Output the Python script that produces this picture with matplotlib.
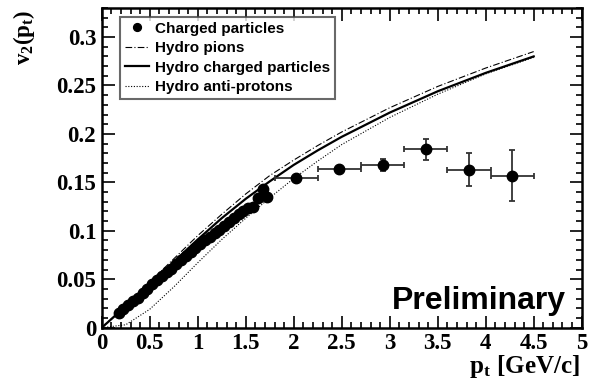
#!/usr/bin/env python3
"""v2(pt) of charged particles compared with hydro curves."""

import matplotlib

matplotlib.use("Agg")
import matplotlib.pyplot as plt
from matplotlib.ticker import MultipleLocator, FuncFormatter

# low-pt measured points
pt_low = [0.175, 0.225, 0.275, 0.325, 0.375, 0.425, 0.475, 0.525, 0.575, 0.625,
          0.675, 0.725, 0.775, 0.825, 0.875, 0.925, 0.975, 1.025, 1.075, 1.125,
          1.175, 1.225, 1.275, 1.325, 1.375, 1.425, 1.475, 1.525, 1.575, 1.625,
          1.675, 1.725]
v2_low = [0.015, 0.019, 0.023, 0.028, 0.031, 0.036, 0.040, 0.045, 0.049, 0.053,
          0.057, 0.061, 0.066, 0.070, 0.074, 0.078, 0.082, 0.086, 0.090, 0.094,
          0.098, 0.101, 0.105, 0.109, 0.113, 0.117, 0.120, 0.124, 0.125, 0.134,
          0.143, 0.135]

# high-pt measured points (wide bins)
pt_high = [2.025, 2.475, 2.925, 3.375, 3.825, 4.275]
v2_high = [0.155, 0.164, 0.168, 0.184, 0.163, 0.157]
v2_high_err = [0.002, 0.003, 0.006, 0.011, 0.017, 0.026]
pt_high_err = [0.225, 0.225, 0.225, 0.225, 0.225, 0.225]

# hydro curves
pt_hydro = [0.0, 0.25, 0.5, 0.75, 1.0, 1.25, 1.5, 1.75, 2.0, 2.25, 2.5, 3.0, 3.5, 4.0, 4.5]
v2_pions = [0.0, 0.023, 0.047, 0.071, 0.095, 0.117, 0.138, 0.157, 0.173, 0.188,
            0.202, 0.227, 0.249, 0.268, 0.285]
v2_charged = [0.0, 0.022, 0.045, 0.068, 0.091, 0.113, 0.133, 0.151, 0.168, 0.183,
              0.197, 0.222, 0.244, 0.263, 0.280]
v2_pbar = [0.0, 0.003, 0.019, 0.042, 0.067, 0.091, 0.113, 0.134, 0.154, 0.172,
           0.189, 0.217, 0.241, 0.262, 0.279]

serif = "Liberation Serif"
sans = "Liberation Sans"
plt.rcParams["mathtext.fontset"] = "custom"
plt.rcParams["mathtext.rm"] = "Liberation Serif:bold"
plt.rcParams["mathtext.it"] = "Liberation Serif:bold"
plt.rcParams["mathtext.bf"] = "Liberation Serif:bold"

fig = plt.figure(figsize=(5.92, 3.89), dpi=100)
ax = fig.add_axes([0.1718, 0.1576, 0.8108, 0.8219])

ax.plot(pt_hydro, v2_pions, color="black", lw=0.8, linestyle=(0, (6, 2, 1, 2)),
        label="Hydro pions")
ax.plot(pt_hydro, v2_charged, color="black", lw=1.6, label="Hydro charged particles")
ax.plot(pt_hydro, v2_pbar, color="black", lw=0.8, linestyle=(0, (1, 1.5)),
        label="Hydro anti-protons")

ax.errorbar(pt_high, v2_high, xerr=pt_high_err, yerr=v2_high_err, fmt="o",
            color="black", ecolor="#333333", elinewidth=1.3, capsize=2.5,
            capthick=1.3, markersize=7.5)
ax.plot(pt_low, v2_low, "o", color="black", markersize=7.5, label="Charged particles")

handles, labels = ax.get_legend_handles_labels()
order = [3, 0, 1, 2]
leg = ax.legend([handles[i] for i in order], [labels[i] for i in order],
                loc="upper left", bbox_to_anchor=(0.038, 0.972), borderaxespad=0,
                prop={"family": sans, "weight": "bold", "size": 11},
                frameon=True, fancybox=False, handlelength=1.6, handletextpad=0.4,
                labelspacing=0.36, borderpad=0.3, markerscale=0.75)
leg.get_frame().set_edgecolor("#444444")
leg.get_frame().set_linewidth(1.5)

ax.set_xlim(0, 5)
ax.set_ylim(0, 0.33)
ax.xaxis.set_major_locator(MultipleLocator(0.5))
ax.xaxis.set_minor_locator(MultipleLocator(0.1))
ax.yaxis.set_major_locator(MultipleLocator(0.05))
ax.yaxis.set_minor_locator(MultipleLocator(0.01))
ax.xaxis.set_major_formatter(FuncFormatter(lambda v, p: f"{v:g}"))
ax.yaxis.set_major_formatter(FuncFormatter(lambda v, p: f"{round(v, 3):g}"))
ax.tick_params(which="both", direction="in", top=True, right=True, width=1.2)
ax.tick_params(which="major", length=9, pad=4)
ax.tick_params(which="minor", length=4.5)
for lab in ax.get_xticklabels() + ax.get_yticklabels():
    lab.set_fontfamily(serif)
    lab.set_fontweight("bold")
    lab.set_fontsize(16.5)
for sp in ax.spines.values():
    sp.set_linewidth(1.8)

fig.text(0.04, 0.975, r"$\mathrm{v_2(p_t)}$", rotation=90, ha="center", va="top",
         fontsize=16.5)
fig.text(0.98, 0.022, r"$\mathrm{p_t\ [GeV/c]}$", ha="right", va="bottom",
         fontsize=18)
ax.text(0.968, 0.06, "Preliminary", transform=ax.transAxes, ha="right",
        va="baseline", family=sans, weight="bold", fontsize=23)

fig.savefig("out.png", dpi=100)
